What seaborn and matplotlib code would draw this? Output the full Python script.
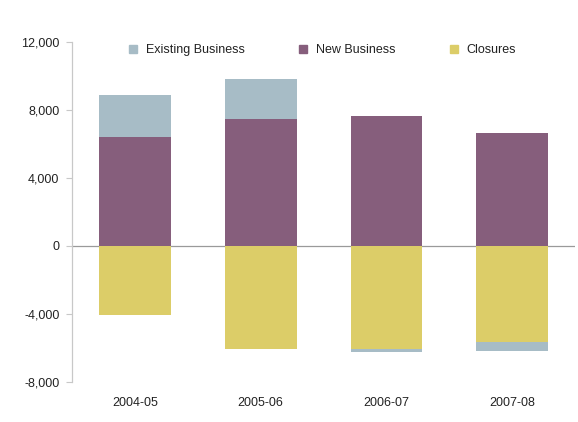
import numpy as np
import matplotlib
matplotlib.use("Agg")
import matplotlib.pyplot as plt
import seaborn as sns
from matplotlib.lines import Line2D

# data
years = ["2004-05", "2005-06", "2006-07", "2007-08"]
new_business = [6400, 7450, 7650, 6650]
closures = [-4050, -6050, -6080, -5650]
existing_business = [2500, 2350, -170, -530]

c_exist = "#A7BCC6"
c_new = "#865E7C"
c_close = "#DCCD68"

sns.set_style("white")
plt.rcParams["font.family"] = ["Liberation Sans", "DejaVu Sans"]

fig, ax = plt.subplots(figsize=(5.78, 4.22), dpi=100)
fig.subplots_adjust(left=0.1246, right=0.995, top=0.9005, bottom=0.0948)

new = np.array(new_business)
close = np.array(closures)
exist = np.array(existing_business)
exist_bottom = np.where(exist >= 0, new, close)

w = 0.57
sns.barplot(x=years, y=new, color=c_new, width=w, saturation=1, linewidth=0, ax=ax)
sns.barplot(x=years, y=close, color=c_close, width=w, saturation=1, linewidth=0, ax=ax)
sns.barplot(x=years, y=exist, bottom=exist_bottom, color=c_exist, width=w,
            saturation=1, linewidth=0, ax=ax)

ax.set_xlim(-0.5, 3.5)
ax.set_ylim(-8000, 12000)
ax.set_yticks(range(-8000, 12001, 4000))
ax.set_yticklabels([f"{v:,}" for v in range(-8000, 12001, 4000)])
ax.axhline(0, color="#9a9a9a", lw=0.9, zorder=0)

for s in ["top", "right", "bottom"]:
    ax.spines[s].set_visible(False)
ax.spines["left"].set_color("#c8c8c8")
ax.spines["left"].set_linewidth(0.9)
ax.tick_params(axis="y", left=True, length=4, color="#c8c8c8", labelsize=9,
               labelcolor="#222222", pad=5)
ax.tick_params(axis="x", bottom=False, length=0, labelsize=9,
               labelcolor="#222222", pad=11)
ax.set_xlabel("")
ax.set_ylabel("")

handles = [Line2D([], [], marker="s", ls="", color=c, markersize=6)
           for c in (c_exist, c_new, c_close)]
ax.legend(handles, ["Existing Business", "New Business", "Closures"],
          ncol=3, loc="center", bbox_to_anchor=(0.49, 0.975), frameon=False,
          fontsize=9, handletextpad=0.0, columnspacing=3.7,
          labelcolor="#222222")

fig.savefig("out.png", dpi=100)
